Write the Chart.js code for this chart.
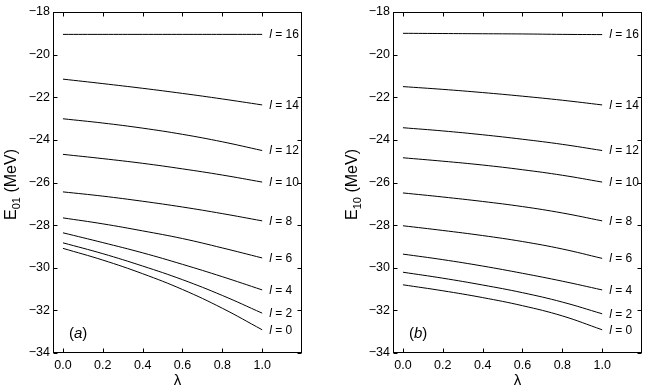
<!DOCTYPE html>
<html>
<head>
<meta charset="utf-8">
<script src="https://cdn.jsdelivr.net/npm/chart.js@4/dist/chart.umd.min.js"></script>
<style>
  html, body { margin: 0; padding: 0; background: #fff; }
  #wrap { position: relative; width: 647px; height: 392px; }
  .panel { position: absolute; top: 0; height: 392px; }
  #pa { left: 0; width: 323px; }
  #pb { left: 323px; width: 324px; }
</style>
</head>
<body>
<div id="wrap">
  <div class="panel" id="pa"><canvas id="ca"></canvas></div>
  <div class="panel" id="pb"><canvas id="cb"></canvas></div>
</div>
<script>
// ---- data ----
const lambda = [0, 0.2, 0.4, 0.6, 0.8, 1.0];
const lValues = [16, 14, 12, 10, 8, 6, 4, 2, 0];
const xTickValues = [0, 0.2, 0.4, 0.6, 0.8, 1.0];
const yTickValues = [-34, -32, -30, -28, -26, -24, -22, -20, -18];

// panel (a): E01
const e01_l16 = [-19.05, -19.05, -19.05, -19.05, -19.05, -19.05];
const e01_l14 = [-21.15, -21.36, -21.58, -21.82, -22.08, -22.36];
const e01_l12 = [-23.01, -23.21, -23.45, -23.74, -24.09, -24.50];
const e01_l10 = [-24.68, -24.88, -25.10, -25.36, -25.65, -25.98];
const e01_l8  = [-26.44, -26.64, -26.88, -27.15, -27.46, -27.80];
const e01_l6  = [-27.66, -27.94, -28.27, -28.63, -29.07, -29.54];
const e01_l4  = [-28.36, -28.82, -29.30, -29.84, -30.42, -31.04];
const e01_l2  = [-28.83, -29.34, -29.92, -30.56, -31.30, -32.13];
const e01_l0  = [-29.09, -29.64, -30.28, -31.02, -31.90, -32.91];

// panel (b): E10
const e10_l16 = [-19.00, -19.01, -19.02, -19.03, -19.05, -19.06];
const e10_l14 = [-21.50, -21.63, -21.78, -21.95, -22.14, -22.36];
const e10_l12 = [-23.43, -23.58, -23.76, -23.97, -24.21, -24.50];
const e10_l10 = [-24.84, -25.00, -25.18, -25.40, -25.66, -25.98];
const e10_l8  = [-26.49, -26.68, -26.89, -27.13, -27.43, -27.80];
const e10_l6  = [-28.03, -28.25, -28.49, -28.77, -29.12, -29.56];
const e10_l4  = [-29.36, -29.62, -29.92, -30.26, -30.63, -31.04];
const e10_l2  = [-30.21, -30.49, -30.81, -31.17, -31.61, -32.16];
const e10_l0  = [-30.80, -31.08, -31.40, -31.78, -32.26, -32.91];

const seriesA = [e01_l16, e01_l14, e01_l12, e01_l10, e01_l8, e01_l6, e01_l4, e01_l2, e01_l0];
const seriesB = [e10_l16, e10_l14, e10_l12, e10_l10, e10_l8, e10_l6, e10_l4, e10_l2, e10_l0];

const FONT = '"Liberation Sans", Arial, Helvetica, sans-serif';

const framePlugin = {
  id: 'frame',
  afterDatasetsDraw(chart) {
    const o = chart.options.plugins.frame;
    const { ctx, chartArea: a, scales: { x, y } } = chart;
    ctx.save();
    ctx.strokeStyle = '#000';
    ctx.lineWidth = 1;
    const L = Math.round(a.left) + 0.5, R = Math.round(a.right) - 0.5;
    const T = Math.round(a.top) + 0.5, B = Math.round(a.bottom) - 0.5;
    ctx.strokeRect(L, T, R - L, B - T);
    ctx.beginPath();
    y.ticks.forEach(t => {
      const py = Math.round(y.getPixelForValue(t.value)) + 0.5;
      ctx.moveTo(L, py); ctx.lineTo(L + 4, py);
      ctx.moveTo(R, py); ctx.lineTo(R - 4, py);
    });
    x.ticks.forEach(t => {
      const px = Math.round(x.getPixelForValue(t.value)) + 0.5;
      ctx.moveTo(px, B); ctx.lineTo(px, B - 4);
      ctx.moveTo(px, T); ctx.lineTo(px, T + 4);
    });
    ctx.stroke();

    // curve labels
    ctx.fillStyle = '#000';
    ctx.textBaseline = 'middle';
    ctx.textAlign = 'left';
    chart.data.datasets.forEach((ds, i) => {
      const meta = chart.getDatasetMeta(i);
      const pt = meta.data[meta.data.length - 1];
      let px = pt.x + 7;
      const py = pt.y + 0.5;
      ctx.font = 'italic 12px ' + FONT;
      ctx.fillText('l', px, py);
      px += ctx.measureText('l').width;
      ctx.font = '12px ' + FONT;
      ctx.fillText(' = ' + ds.label, px, py);
    });

    // panel tag (a)/(b)
    ctx.font = '15px ' + FONT;
    let tx = a.left + 16;
    const ty = a.bottom - 19;
    ctx.fillText('(', tx, ty); tx += ctx.measureText('(').width;
    ctx.font = 'italic 15px ' + FONT;
    ctx.fillText(o.tag, tx, ty); tx += ctx.measureText(o.tag).width;
    ctx.font = '15px ' + FONT;
    ctx.fillText(')', tx, ty);

    // y title with subscript
    const cy = (a.top + a.bottom) / 2 + 2;
    ctx.translate(o.titleX, cy);
    ctx.rotate(-Math.PI / 2);
    ctx.textBaseline = 'alphabetic';
    ctx.font = '16px ' + FONT;
    const wE = ctx.measureText('E').width;
    const wRest = ctx.measureText(' (MeV)').width;
    ctx.font = '11px ' + FONT;
    const wSub = ctx.measureText(o.sub).width;
    let sx = -(wE + wSub + wRest) / 2;
    ctx.font = '16px ' + FONT;
    ctx.fillText('E', sx, 0); sx += wE;
    ctx.font = '11px ' + FONT;
    ctx.fillText(o.sub, sx, 4); sx += wSub;
    ctx.font = '16px ' + FONT;
    ctx.fillText(' (MeV)', sx, 0);
    ctx.restore();
  }
};

function makeChart(id, series, yAxisWidth, padRight, tag, sub, titleX) {
  const datasets = series.map((vals, i) => ({
    label: String(lValues[i]),
    data: lambda.map((lx, j) => ({ x: lx, y: vals[j] })),
    borderColor: '#000',
    borderWidth: 1,
    pointRadius: 0,
    fill: false,
    tension: 0.4
  }));
  return new Chart(document.getElementById(id), {
    type: 'line',
    data: { datasets },
    options: {
      responsive: true,
      maintainAspectRatio: false,
      animation: false,
      events: [],
      layout: { padding: { left: 0, right: padRight, top: 12, bottom: 0 } },
      plugins: {
        legend: { display: false },
        tooltip: { enabled: false },
        frame: { tag, sub, titleX }
      },
      scales: {
        x: {
          type: 'linear',
          min: -0.05,
          max: 1.2,
          afterBuildTicks: ax => { ax.ticks = xTickValues.map(v => ({ value: v })); },
          afterFit: ax => { ax.height = 39; },
          grid: { display: false, drawTicks: false },
          border: { display: false },
          ticks: {
            padding: 5,
            color: '#000',
            font: { family: FONT, size: 12.5 },
            maxRotation: 0,
            autoSkip: false,
            callback: v => Number(v).toFixed(1)
          },
          title: {
            display: true,
            text: 'λ',
            color: '#000',
            font: { family: FONT, size: 15 },
            padding: { top: 0, bottom: 2 }
          }
        },
        y: {
          type: 'linear',
          min: -34,
          max: -18,
          afterBuildTicks: ax => { ax.ticks = yTickValues.map(v => ({ value: v })); },
          afterFit: ax => { ax.width = yAxisWidth; },
          grid: { display: false, drawTicks: false },
          border: { display: false },
          ticks: {
            padding: 3,
            color: '#000',
            font: { family: FONT, size: 12.5 },
            autoSkip: false,
            callback: v => String(v).replace('-', '\u2212')
          }
        }
      }
    },
    plugins: [framePlugin]
  });
}

makeChart('ca', seriesA, 53, 21, 'a', '01', 16);
makeChart('cb', seriesB, 70, 5, 'b', '10', 34);
</script>
</body>
</html>
